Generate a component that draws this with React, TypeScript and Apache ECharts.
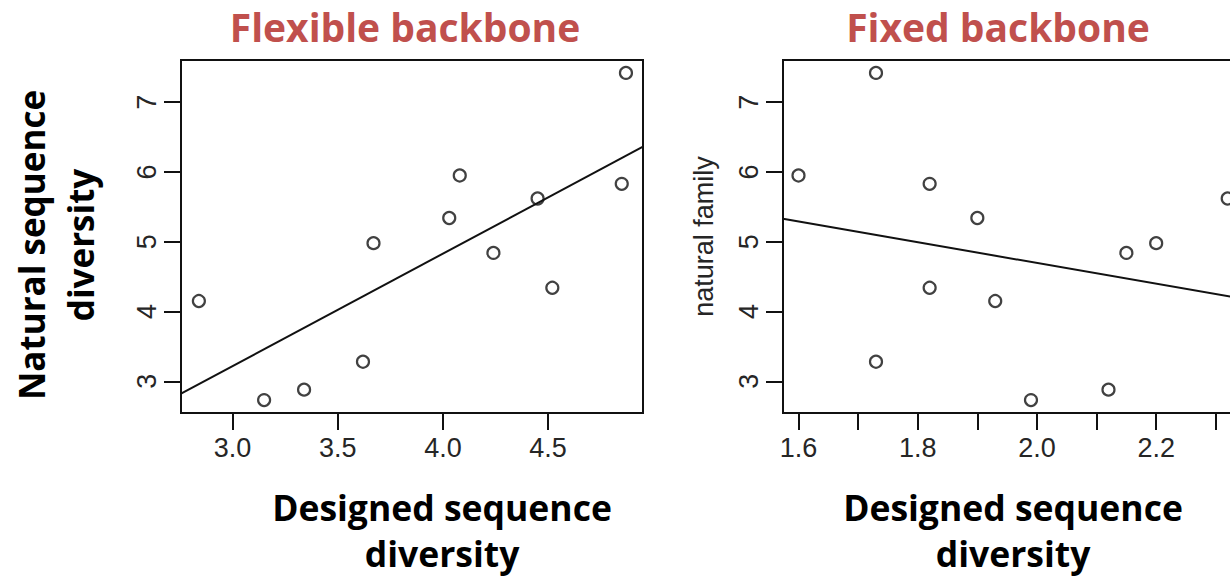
import React, { useEffect, useRef } from 'react';
import * as echarts from 'echarts';

// Natural sequence diversity (same proteins in both panels)
const naturalDiversity = [7.42, 5.95, 5.83, 5.34, 5.62, 4.98, 4.84, 4.34, 4.15, 3.28, 2.73, 2.88];
// Designed sequence diversity, flexible backbone
const flexibleDiversity = [4.87, 4.08, 4.85, 4.03, 4.45, 3.67, 4.24, 4.52, 2.84, 3.62, 3.15, 3.34];
// Designed sequence diversity, fixed backbone
const fixedDiversity = [1.73, 1.6, 1.82, 1.9, 2.32, 2.2, 2.15, 1.82, 1.93, 1.73, 1.99, 2.12];

// Fitted regression lines (endpoints at the plot edges)
const flexibleFitX = [2.755, 4.951];
const flexibleFitY = [2.823, 6.362];
const fixedFitX = [1.574, 2.349];
const fixedFitY = [5.33, 4.176];

// Tick values
const yTicks = [3, 4, 5, 6, 7];
const flexibleXTicks = [3.0, 3.5, 4.0, 4.5];
const fixedXTicks = [1.6, 1.7, 1.8, 1.9, 2.0, 2.1, 2.2, 2.3];
const fixedXLabels = [1.6, 1.8, 2.0, 2.2];

const RFONT = 'Liberation Sans';
const BOLDFONT = 'Open Sans';
const INK = '#111111';
const LABEL = '#262626';

function xAxisFor(gridIndex: number, min: number, max: number, ticks: number[], labels: number[]) {
  return {
    type: 'value',
    gridIndex,
    min,
    max,
    axisLine: { show: false },
    splitLine: { show: false },
    axisTick: { show: true, customValues: ticks, inside: false, length: 17, lineStyle: { color: INK, width: 2 } },
    axisLabel: {
      customValues: labels,
      formatter: (v: number) => v.toFixed(1),
      fontFamily: RFONT,
      fontSize: 27,
      color: LABEL,
      margin: 21,
      hideOverlap: false,
    },
  };
}

function yAxisFor(gridIndex: number, name?: string) {
  return {
    type: 'value',
    gridIndex,
    min: 2.545,
    max: 7.605,
    name: name || '',
    nameLocation: 'middle',
    nameRotate: 90,
    nameGap: 66,
    nameTextStyle: { fontFamily: RFONT, fontSize: 27, color: LABEL },
    axisLine: { show: false },
    splitLine: { show: false },
    axisTick: { show: true, customValues: yTicks, inside: false, length: 17, lineStyle: { color: INK, width: 2 } },
    axisLabel: {
      customValues: yTicks,
      formatter: (v: number) => String(v),
      rotate: 90,
      fontFamily: RFONT,
      fontSize: 27,
      color: LABEL,
      margin: 21,
    },
  };
}

export default function App() {
  const ref = useRef<HTMLDivElement>(null);
  useEffect(() => {
    if (!ref.current) return;
    const chart = echarts.init(ref.current, undefined, { renderer: 'svg' });
    const pointStyle = { color: 'rgba(0,0,0,0)', borderColor: INK, borderWidth: 2.2 };
    const boldText = (text: string, x: number, y: number, size: number, lineHeight: number, rotation = 0) => ({
      type: 'text',
      x,
      y,
      rotation,
      silent: true,
      style: {
        text,
        fontFamily: BOLDFONT,
        fontWeight: 'bold',
        fontSize: size,
        lineHeight,
        fill: '#000',
        align: 'center',
        verticalAlign: 'middle',
      },
    });
    const gridBase = {
      top: 60,
      width: 462,
      height: 353,
      show: true,
      borderColor: INK,
      borderWidth: 2,
      backgroundColor: 'transparent',
      containLabel: false,
      outerBoundsMode: 'none',
    };
    chart.setOption({
      animation: false,
      backgroundColor: '#ffffff',
      title: [
        {
          text: 'Flexible backbone',
          left: 400,
          top: 2,
          textAlign: 'center',
          textStyle: { fontFamily: BOLDFONT, fontWeight: 'bold', fontSize: 39, color: '#C0504D' },
        },
        {
          text: 'Fixed backbone',
          left: 993,
          top: 2,
          textAlign: 'center',
          textStyle: { fontFamily: BOLDFONT, fontWeight: 'bold', fontSize: 39, color: '#C0504D' },
        },
      ],
      grid: [
        { ...gridBase, left: 181 },
        { ...gridBase, left: 783 },
      ],
      xAxis: [
        xAxisFor(0, 2.755, 4.951, flexibleXTicks, flexibleXTicks),
        xAxisFor(1, 1.574, 2.349, fixedXTicks, fixedXLabels),
      ],
      yAxis: [yAxisFor(0), yAxisFor(1, 'natural family')],
      series: [
        {
          type: 'line',
          xAxisIndex: 0,
          yAxisIndex: 0,
          data: flexibleFitX.map((x, i) => [x, flexibleFitY[i]]),
          showSymbol: false,
          silent: true,
          lineStyle: { color: INK, width: 2 },
        },
        {
          type: 'scatter',
          xAxisIndex: 0,
          yAxisIndex: 0,
          data: flexibleDiversity.map((x, i) => [x, naturalDiversity[i]]),
          symbol: 'circle',
          symbolSize: 12,
          silent: true,
          itemStyle: pointStyle,
        },
        {
          type: 'line',
          xAxisIndex: 1,
          yAxisIndex: 1,
          data: fixedFitX.map((x, i) => [x, fixedFitY[i]]),
          showSymbol: false,
          silent: true,
          lineStyle: { color: INK, width: 2 },
        },
        {
          type: 'scatter',
          xAxisIndex: 1,
          yAxisIndex: 1,
          data: fixedDiversity.map((x, i) => [x, naturalDiversity[i]]),
          symbol: 'circle',
          symbolSize: 12,
          silent: true,
          itemStyle: pointStyle,
        },
      ],
      graphic: [
        boldText('Natural sequence\ndiversity', 56, 245, 35, 49, Math.PI / 2),
        boldText('Designed sequence\ndiversity', 442, 530, 35.5, 46),
        boldText('Designed sequence\ndiversity', 1013, 530, 35.5, 46),
      ],
    });
    return () => chart.dispose();
  }, []);
  return <div ref={ref} style={{ position: 'fixed', left: 0, top: 0, width: 1230, height: 578 }} />;
}
